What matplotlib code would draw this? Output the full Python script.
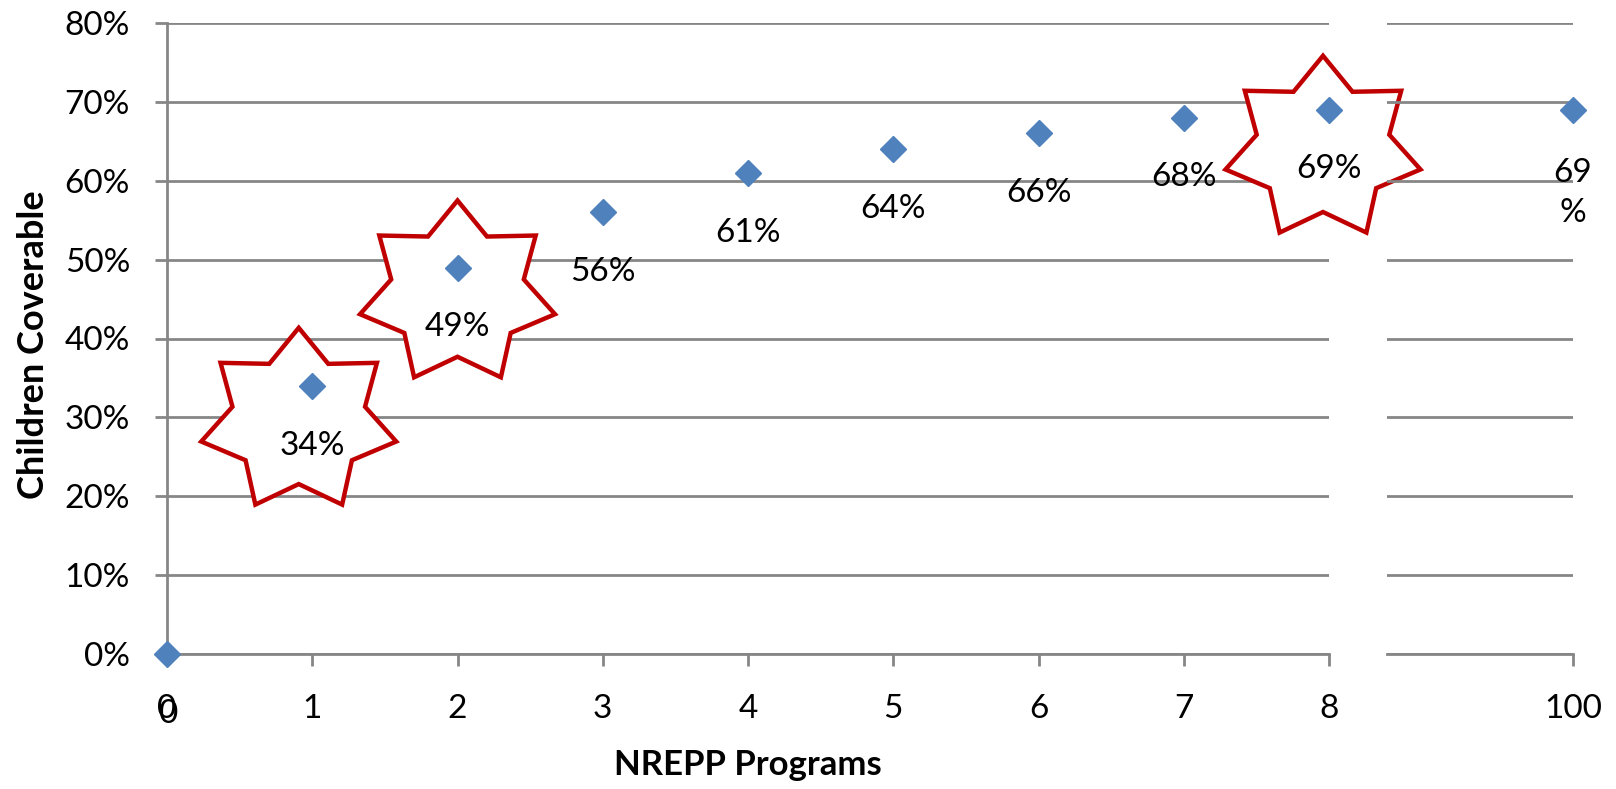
import matplotlib
matplotlib.use("Agg")
import matplotlib.pyplot as plt
import matplotlib.transforms as mtransforms
from matplotlib.patches import Polygon
from matplotlib.ticker import PercentFormatter
import numpy as np

plt.rcParams["font.family"] = ["Lato", "DejaVu Sans"]

# data
programs = ["0", "1", "2", "3", "4", "5", "6", "7", "8"]
coverage = [0.00, 0.34, 0.49, 0.56, 0.61, 0.64, 0.66, 0.68, 0.69]
last_program = "100"
last_coverage = 0.69
starred = [1, 2, 8]

# star offsets from their point, in pixels (dx, dy)
star_offsets = [(-13.5, -35), (0, -26), (-6, -39)]

GRID = "#868686"
BLUE = "#4F81BD"
RED = "#C00000"
FS = 24

W, H = 1616, 789
fig = plt.figure(figsize=(W / 100, H / 100), dpi=100)
bottom = 1 - 654 / H
height = (654 - 23) / H
ax1 = fig.add_axes([167 / W, bottom, (1329 - 167) / W, height])
ax2 = fig.add_axes([1387 / W, bottom, (1573 - 1387) / W, height], sharey=ax1)
ax2.patch.set_visible(False)

x = np.arange(len(programs))

for ax in (ax1, ax2):
    ax.set_ylim(0, 0.8)
    ax.set_yticks(np.arange(0, 0.81, 0.1))
    ax.yaxis.grid(True, color=GRID, linewidth=2)
    ax.set_axisbelow(True)
    for s in ("top", "right"):
        ax.spines[s].set_visible(False)
    ax.spines["bottom"].set_color(GRID)
    ax.spines["bottom"].set_linewidth(2)
    ax.tick_params(axis="x", length=8.6, width=2, color=GRID, labelsize=FS, pad=20)

ax1.spines["left"].set_color(GRID)
ax1.spines["left"].set_linewidth(2)
ax1.tick_params(axis="y", length=8.6, width=2, color=GRID, labelsize=FS, pad=18)
ax1.yaxis.set_major_formatter(PercentFormatter(1.0, decimals=0))
ax2.spines["left"].set_visible(False)
ax2.tick_params(axis="y", left=False, labelleft=False)

ax1.set_xlim(0, len(programs) - 1)
ax1.set_xticks(x)
ax1.set_xticklabels(programs)
ax2.set_xlim(100 - 186 / 146, 100)
ax2.set_xticks([100])
ax2.set_xticklabels([last_program])

# second overlapping "0" at the origin
ax1.annotate("0", xy=(0, 0), xycoords="data", xytext=(1.5, -32.6), textcoords="offset points",
             ha="center", va="top", fontsize=FS, annotation_clip=False)

# stars
def star_vertices(cx, cy, rx=100, ry=93, ratio=0.68, n=7):
    ang = np.deg2rad(90 + np.arange(2 * n) * 180 / n)
    rad = np.where(np.arange(2 * n) % 2 == 0, 1.0, ratio)
    return np.column_stack([cx + rx * rad * np.cos(ang), cy + ry * rad * np.sin(ang)]) / 100

for i, (dx, dy) in zip(starred, star_offsets):
    tr = fig.dpi_scale_trans + mtransforms.ScaledTranslation(x[i], coverage[i], ax1.transData)
    star = Polygon(star_vertices(dx, dy), closed=True, facecolor="white", edgecolor=RED,
                   linewidth=3.2, joinstyle="miter", transform=tr, zorder=2, clip_on=False)
    ax1.add_patch(star)

ax1.plot(x, coverage, linestyle="none", marker="D", markersize=13, color=BLUE,
         zorder=3, clip_on=False)
ax2.plot([100], [last_coverage], linestyle="none", marker="D", markersize=13, color=BLUE,
         zorder=3, clip_on=False)

for xi, v in zip(x, coverage):
    if xi == 0:
        continue
    ax1.annotate(f"{v:.0%}", xy=(xi, v), xytext=(0, -43), textcoords="offset points",
                 ha="center", va="center", fontsize=FS, zorder=5, annotation_clip=False)
ax2.annotate(f"{last_coverage * 100:.0f}\n%", xy=(100, last_coverage), xytext=(0, -60),
             textcoords="offset points", ha="center", va="center", fontsize=FS,
             linespacing=1.4, zorder=5, annotation_clip=False)

fig.text(34 / W, 1 - 345 / H, "Children Coverable", rotation=90, ha="center", va="center",
         fontsize=26, fontweight="bold")
fig.text(748 / W, 1 - 765 / H, "NREPP Programs", ha="center", va="center",
         fontsize=25, fontweight="bold")

fig.savefig("out.png", dpi=100)
